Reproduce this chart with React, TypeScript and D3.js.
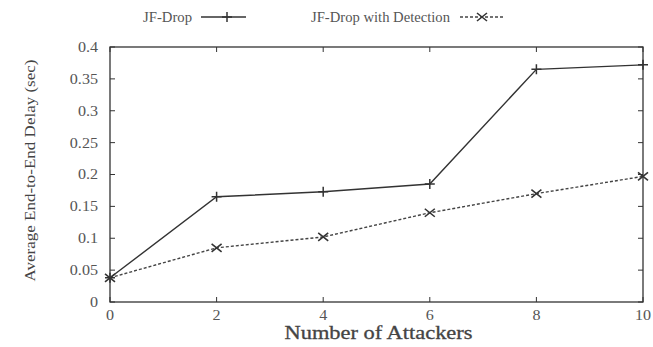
import React, { useRef, useEffect } from 'react';
import * as d3 from 'd3';

const attackers = [0, 2, 4, 6, 8, 10];
const jfDrop = [0.038, 0.165, 0.173, 0.185, 0.365, 0.372];
const jfDropDetection = [0.038, 0.085, 0.102, 0.14, 0.17, 0.197];
const yTicks = [0, 0.05, 0.1, 0.15, 0.2, 0.25, 0.3, 0.35, 0.4];
const xTicks = [0, 2, 4, 6, 8, 10];

const App = () => {
  const svgRef = useRef<SVGSVGElement>(null);

  useEffect(() => {
    const svg = d3.select(svgRef.current);
    svg.selectAll('*').remove();
    const width = 653;
    const height = 347;
    const margin = { top: 47, right: 10, bottom: 45, left: 110 };
    const ink = '#333';
    const txt = '#555';

    const x = d3.scaleLinear().domain([0, 10]).range([margin.left, width - margin.right]);
    const y = d3.scaleLinear().domain([0, 0.4]).range([height - margin.bottom, margin.top]);

    svg.append('rect').attr('width', width).attr('height', height).attr('fill', '#fff');

    // widen a text by a factor (the scan looks horizontally stretched)
    const stretch = (sel: any, k: number) => {
      const w = sel.node().getComputedTextLength();
      sel.attr('textLength', w * k).attr('lengthAdjust', 'spacingAndGlyphs');
    };

    // frame
    svg.append('rect')
      .attr('x', x(0)).attr('y', y(0.4))
      .attr('width', x(10) - x(0)).attr('height', y(0) - y(0.4))
      .attr('fill', 'none').attr('stroke', ink).attr('stroke-width', 1.3);

    // ticks, mirrored on all sides
    const tl = 5;
    yTicks.forEach(t => {
      svg.append('line').attr('x1', x(0)).attr('x2', x(0) + tl).attr('y1', y(t)).attr('y2', y(t)).attr('stroke', ink);
      svg.append('line').attr('x1', x(10)).attr('x2', x(10) - tl).attr('y1', y(t)).attr('y2', y(t)).attr('stroke', ink);
      const lab = svg.append('text').attr('x', x(0) - 12).attr('y', y(t)).attr('dy', '0.35em')
        .attr('text-anchor', 'end').attr('font-size', 14).attr('fill', txt)
        .text(String(t));
      stretch(lab, 1.15);
    });
    xTicks.forEach(t => {
      svg.append('line').attr('x1', x(t)).attr('x2', x(t)).attr('y1', y(0)).attr('y2', y(0) - tl).attr('stroke', ink);
      svg.append('line').attr('x1', x(t)).attr('x2', x(t)).attr('y1', y(0.4)).attr('y2', y(0.4) + tl).attr('stroke', ink);
      const lab = svg.append('text').attr('x', x(t)).attr('y', y(0) + 18)
        .attr('text-anchor', 'middle').attr('font-size', 14).attr('fill', txt)
        .text(String(t));
      stretch(lab, 1.15);
    });

    // axis titles
    svg.append('text').attr('x', (x(0) + x(10)) / 2 + 2).attr('y', 339)
      .attr('text-anchor', 'middle').attr('font-size', 18).attr('fill', '#444')
      .attr('stroke', '#444').attr('stroke-width', 0.3)
      .attr('textLength', 188).attr('lengthAdjust', 'spacingAndGlyphs')
      .text('Number of Attackers');
    svg.append('text')
      .attr('transform', `translate(35,${(y(0) + y(0.4)) / 2 - 4}) rotate(-90)`)
      .attr('text-anchor', 'middle').attr('font-size', 15).attr('fill', '#444')
      .attr('textLength', 222).attr('lengthAdjust', 'spacingAndGlyphs')
      .text('Average End-to-End Delay (sec)');

    const line = d3.line<number>().x((_, i) => x(attackers[i])).y(d => y(d));

    const plus = (g: any, cx: number, cy: number) => {
      g.append('path').attr('d', `M${cx - 5},${cy}H${cx + 5}M${cx},${cy - 5}V${cy + 5}`)
        .attr('stroke', ink).attr('stroke-width', 1.5);
    };
    const cross = (g: any, cx: number, cy: number) => {
      g.append('path').attr('d', `M${cx - 5},${cy - 4}L${cx + 5},${cy + 4}M${cx - 5},${cy + 4}L${cx + 5},${cy - 4}`)
        .attr('stroke', ink).attr('stroke-width', 1.6);
    };

    svg.append('path').datum(jfDrop).attr('d', line).attr('fill', 'none')
      .attr('stroke', ink).attr('stroke-width', 1.4);
    svg.append('path').datum(jfDropDetection).attr('d', line).attr('fill', 'none')
      .attr('stroke', '#444').attr('stroke-width', 1.4).attr('stroke-dasharray', '3,2');

    jfDrop.forEach((d, i) => plus(svg, x(attackers[i]), y(d)));
    jfDropDetection.forEach((d, i) => cross(svg, x(attackers[i]), y(d)));

    // legend
    const legendY = 17;
    svg.append('text').attr('x', 192).attr('y', legendY).attr('dy', '0.35em').attr('text-anchor', 'end')
      .attr('font-size', 14.5).attr('fill', txt)
      .attr('textLength', 49).attr('lengthAdjust', 'spacingAndGlyphs').text('JF-Drop');
    svg.append('line').attr('x1', 201).attr('x2', 246).attr('y1', legendY).attr('y2', legendY)
      .attr('stroke', ink).attr('stroke-width', 1.4);
    plus(svg, 227, legendY);
    svg.append('text').attr('x', 450).attr('y', legendY).attr('dy', '0.35em').attr('text-anchor', 'end')
      .attr('font-size', 14.5).attr('fill', txt)
      .attr('textLength', 139).attr('lengthAdjust', 'spacingAndGlyphs').text('JF-Drop with Detection');
    svg.append('line').attr('x1', 460).attr('x2', 505).attr('y1', legendY).attr('y2', legendY)
      .attr('stroke', '#444').attr('stroke-width', 1.4).attr('stroke-dasharray', '3,2');
    cross(svg, 482, legendY);
  }, []);

  return (
    <svg ref={svgRef} width="653" height="347"
      style={{ position: 'absolute', left: 0, top: 0, fontFamily: "'Liberation Serif', 'Times New Roman', Times, serif" }}></svg>
  );
};

export default App;
